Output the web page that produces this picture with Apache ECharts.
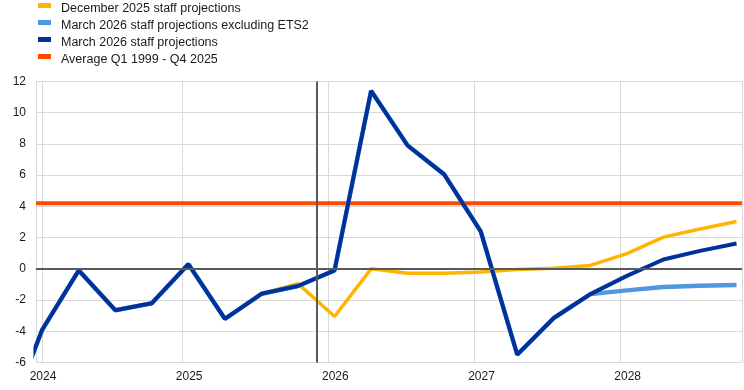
<!DOCTYPE html>
<html>
<head>
<meta charset="utf-8">
<script src="https://cdn.jsdelivr.net/npm/echarts@6/dist/echarts.min.js"></script>
<style>html,body{margin:0;padding:0;background:#fff}#c{width:744px;height:390px}</style>
</head>
<body>
<div id="c"></div>
<script>
// Quarters (2023Q4 .. 2028Q4); x position = quarter index, 2024Q1 = 0
const quarters = ['2023Q4',
  '2024Q1','2024Q2','2024Q3','2024Q4',
  '2025Q1','2025Q2','2025Q3','2025Q4',
  '2026Q1','2026Q2','2026Q3','2026Q4',
  '2027Q1','2027Q2','2027Q3','2027Q4',
  '2028Q1','2028Q2','2028Q3','2028Q4'];
const december2025 = [-10.0,
  -3.9, -0.1, -2.65, -2.2,
  0.3, -3.2, -1.6, -0.95,
  -3.05, 0.0, -0.28, -0.28,
  -0.2, -0.05, 0.03, 0.22,
  0.97, 2.03, 2.55, 3.03];
const march2026ExETS2 = [-10.0,
  -3.9, -0.1, -2.65, -2.2,
  0.3, -3.2, -1.6, -1.1,
  -0.1, 11.4, 7.9, 6.05,
  2.4, -5.5, -3.15, -1.62,
  -1.38, -1.17, -1.09, -1.04];
const march2026 = [-10.0,
  -3.9, -0.1, -2.65, -2.2,
  0.3, -3.2, -1.6, -1.1,
  -0.1, 11.4, 7.9, 6.05,
  2.4, -5.5, -3.15, -1.62,
  -0.45, 0.6, 1.15, 1.62];
const averageValue = 4.2;
const yearLabels = ['2024','2025','2026','2027','2028'];
const cutoffQuarter = 7.5; // vertical line between 2025Q4 and 2026Q1
const seriesNames = ['December 2025 staff projections','March 2026 staff projections excluding ETS2','March 2026 staff projections','Average Q1 1999 - Q4 2025'];

const firstIndex = -1;
const xMin = -0.17, xMax = 19.15;
function toPairs(arr){ return arr.map((v,i)=>[i+firstIndex, v]); }

const FONT = 'Liberation Sans, Arial, sans-serif';
const chart = echarts.init(document.getElementById('c'), null, {renderer:'canvas'});
chart.setOption({
  animation:false,
  textStyle:{fontFamily:FONT},
  legend:{
    orient:'vertical', left:38, top:-4, padding:0, itemGap:-2,
    itemWidth:13, itemHeight:5, icon:'rect',
    formatter:function(n){ return '{t|' + n + '}'; },
    textStyle:{fontFamily:FONT, fontSize:12.5, color:'#1a1a1a',
      rich:{t:{fontFamily:FONT, fontSize:12.5, color:'#1a1a1a', padding:[6,0,0,5], lineHeight:14}}},
    data:seriesNames
  },
  grid:{left:36, right:2, top:81.5, bottom:27.5, containLabel:false},
  xAxis:{
    type:'value', min:xMin, max:xMax, interval:4,
    axisLine:{show:true, lineStyle:{color:'#d9d9d9', width:1}},
    axisTick:{show:false},
    splitLine:{show:true, lineStyle:{color:'#d9d9d9', width:1}},
    axisLabel:{
      color:'#1a1a1a', fontSize:12, fontFamily:FONT, margin:8, padding:[0,0,0,14],
      showMaxLabel:false,
      formatter:function(v){ const k=Math.round((v-xMin)/4); return yearLabels[k]||''; }
    }
  },
  yAxis:{
    type:'value', min:-6, max:12, interval:2,
    axisLine:{show:true, lineStyle:{color:'#d9d9d9', width:1}},
    axisTick:{show:false},
    splitLine:{show:true, lineStyle:{color:'#d9d9d9', width:1}},
    axisLabel:{color:'#1a1a1a', fontSize:12, fontFamily:FONT, margin:10}
  },
  series:[
    {
      name:seriesNames[3], type:'line', z:1, symbol:'none',
      data:[[xMin, averageValue],[xMax, averageValue]],
      lineStyle:{color:'#ff4b00', width:4}, itemStyle:{color:'#ff4b00'},
      markLine:{
        silent:true, symbol:'none', label:{show:false},
        lineStyle:{color:'#595959', width:2, type:'solid'},
        data:[{yAxis:0},{xAxis:cutoffQuarter}]
      }
    },
    {
      name:seriesNames[0], type:'line', z:2, symbol:'none',
      data:toPairs(december2025),
      lineStyle:{color:'#ffb400', width:3.5}, itemStyle:{color:'#ffb400'}
    },
    {
      name:seriesNames[1], type:'line', z:3, symbol:'none',
      data:toPairs(march2026ExETS2),
      lineStyle:{color:'#4f97df', width:4.5}, itemStyle:{color:'#4f97df'}
    },
    {
      name:seriesNames[2], type:'line', z:4, symbol:'none',
      data:toPairs(march2026),
      lineStyle:{color:'#003299', width:4}, itemStyle:{color:'#003299'}
    }
  ]
});
</script>
</body>
</html>
